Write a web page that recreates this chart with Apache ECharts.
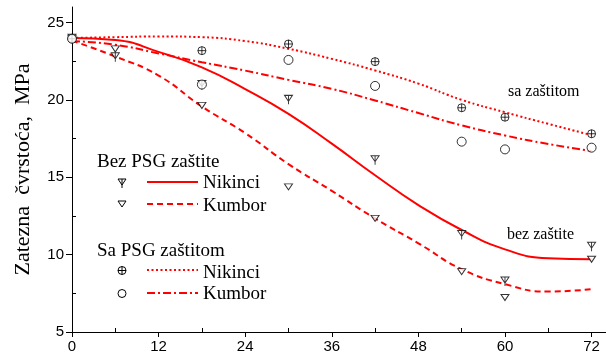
<!DOCTYPE html>
<html>
<head>
<meta charset="utf-8">
<script src="https://cdn.jsdelivr.net/npm/echarts@6/dist/echarts.min.js"></script>
<style>
  html, body { margin: 0; padding: 0; background: #fff; }
  #chart { width: 606px; height: 354px; }
</style>
</head>
<body>
<div id="chart"></div>
<script type="text/javascript">
    // fitted curves, read every 6 units
    var curveX = [0, 6, 12, 18, 24, 30, 36, 42, 48, 54, 60, 66, 72];
    var nikBezCurve = [24.0, 23.87, 23.1, 22.1, 20.7, 19.1, 17.17, 15.13, 13.2, 11.59, 10.34, 9.76, 9.70];
    var kumBezCurve = [23.82, 22.8, 21.57, 19.57, 17.85, 15.85, 14.12, 12.34, 10.73, 9.06, 8.09, 7.61, 7.77];
    var nikSaCurve = [24.0, 24.05, 24.1, 24.05, 23.8, 23.3, 22.65, 21.9, 21.05, 20.0, 19.2, 18.45, 17.72];
    var kumSaCurve = [23.8, 23.56, 23.0, 22.43, 21.89, 21.29, 20.71, 19.96, 19.15, 18.35, 17.7, 17.15, 16.69];

    // measured points
    var bezX = [0, 6, 18, 30, 42, 54, 60, 72];
    var nikBezPts = [23.95, 22.75, 20.95, 20.0, 16.1, 11.27, 8.26, 10.51];
    var kumBezPts = [23.95, 23.29, 19.64, 14.38, 12.34, 8.9, 7.23, 9.7];
    var saX = [0, 18, 30, 42, 54, 60, 72];
    var nikSaPts = [23.95, 23.18, 23.61, 22.47, 19.49, 18.88, 17.81];
    var kumSaPts = [23.95, 20.99, 22.58, 20.9, 17.3, 16.8, 16.91];

    var xTicks = [0, 12, 24, 36, 48, 60, 72];
    var xMinor = [6, 18, 30, 42, 54, 66];
    var yTicks = [5, 10, 15, 20, 25];
    var yMinor = [7.5, 12.5, 17.5, 22.5];

    function pairs(xs, ys) {
        return xs.map(function (x, i) { return [x, ys[i]]; });
    }

    var RED = '#ff0000';
    var triLine = 'path://M0,0 L8,0 L4,6 Z M4,0 L4,9';
    var tri = 'path://M0,0 L8,0 L4,6 Z';
    var oplus = 'path://M0,4 A4,4 0 1 1 8,4 A4,4 0 1 1 0,4 Z M0,4 L8,4 M4,0 L4,8';
    var mk = {color: '#fff', borderColor: '#000', borderWidth: 1};

    var styles = {
        solid: 'solid',
        dashed: [6, 4],
        dotted: [2, 2.5],
        dashdot: [8, 3, 2, 3]
    };

    function curve(name, ys, type) {
        return {
            name: name, type: 'line', data: pairs(curveX, ys), smooth: true,
            showSymbol: false, symbol: 'none', silent: true,
            lineStyle: {color: RED, width: 2, type: type}
        };
    }
    function pts(name, xs, ys, symbol, size) {
        return {
            name: name, type: 'scatter', data: pairs(xs, ys),
            symbol: symbol, symbolSize: size, itemStyle: mk, z: 5
        };
    }

    var serif = 'Liberation Serif';
    function txt(x, y, s, size) {
        return {type: 'text', x: x, y: y, z: 10,
            style: {text: s, font: size + 'px "' + serif + '"', fill: '#000', align: 'left', verticalAlign: 'middle'}};
    }
    function legLine(y, type) {
        return {type: 'line', z: 10, shape: {x1: 147, y1: y, x2: 198, y2: y},
            style: {stroke: RED, lineWidth: 2, lineDash: type === 'solid' ? null : type}};
    }

    var myChart = echarts.init(document.getElementById('chart'));
    myChart.setOption({
        animation: false,
        grid: {left: 72, right: 0, top: 7, bottom: 22, containLabel: false},
        xAxis: [{
            type: 'value', min: 0, max: 74,
            axisLine: {lineStyle: {color: '#000', width: 1}},
            axisTick: {length: 5, customValues: xTicks, lineStyle: {color: '#000'}},
            axisLabel: {customValues: xTicks, color: '#000', fontFamily: 'Liberation Sans', fontSize: 15, margin: 7},
            splitLine: {show: false}
        }, {
            type: 'value', min: 0, max: 74, position: 'bottom',
            axisLine: {show: false},
            axisTick: {inside: true, length: 4, customValues: xMinor, lineStyle: {color: '#000'}},
            axisLabel: {show: false},
            splitLine: {show: false}
        }],
        yAxis: [{
            type: 'value', min: 5, max: 26,
            name: 'Zatezna  čvrstoća,  MPa', nameLocation: 'middle', nameRotate: 90, nameGap: 38,
            nameTextStyle: {fontFamily: serif, fontSize: 22, color: '#000'},
            axisLine: {show: true, lineStyle: {color: '#000', width: 1}},
            axisTick: {show: true, length: 6, customValues: yTicks, lineStyle: {color: '#000'}},
            axisLabel: {customValues: yTicks, color: '#000', fontFamily: 'Liberation Sans', fontSize: 15, margin: 8},
            splitLine: {show: false}
        }, {
            type: 'value', min: 5, max: 26, position: 'left',
            axisLine: {show: false},
            axisTick: {show: true, inside: true, length: 4, customValues: yMinor, lineStyle: {color: '#000'}},
            axisLabel: {show: false},
            splitLine: {show: false}
        }],
        series: [
            curve('Nikinci bez', nikBezCurve, styles.solid),
            curve('Kumbor bez', kumBezCurve, styles.dashed),
            curve('Nikinci sa', nikSaCurve, styles.dotted),
            curve('Kumbor sa', kumSaCurve, styles.dashdot),
            pts('Nikinci bez pts', bezX, nikBezPts, triLine, [8, 9]),
            pts('Kumbor bez pts', bezX, kumBezPts, tri, [8, 6]),
            pts('Nikinci sa pts', saX, nikSaPts, oplus, 8),
            pts('Kumbor sa pts', saX, kumSaPts, 'circle', 9)
        ],
        graphic: [
            txt(97, 162, 'Bez PSG zaštite', 19),
            {type: 'polygon', z: 10, shape: {points: [[118, 179], [126, 179], [122, 185]]}, style: {fill: '#fff', stroke: '#000', lineWidth: 1}},
            {type: 'line', z: 10, shape: {x1: 122, y1: 179, x2: 122, y2: 188}, style: {stroke: '#000', lineWidth: 1}},
            legLine(182, styles.solid),
            txt(203, 183, 'Nikinci', 19),
            {type: 'polygon', z: 10, shape: {points: [[118, 201], [126, 201], [122, 207]]}, style: {fill: '#fff', stroke: '#000', lineWidth: 1}},
            legLine(204, styles.dashed),
            txt(203, 206, 'Kumbor', 19),

            txt(97, 251, 'Sa PSG zaštitom', 19),
            {type: 'circle', z: 10, shape: {cx: 122, cy: 270.5, r: 4}, style: {fill: '#fff', stroke: '#000', lineWidth: 1}},
            {type: 'line', z: 10, shape: {x1: 118, y1: 270.5, x2: 126, y2: 270.5}, style: {stroke: '#000', lineWidth: 1}},
            {type: 'line', z: 10, shape: {x1: 122, y1: 266.5, x2: 122, y2: 274.5}, style: {stroke: '#000', lineWidth: 1}},
            legLine(270, styles.dotted),
            txt(203, 273, 'Nikinci', 19),
            {type: 'circle', z: 10, shape: {cx: 122, cy: 293.5, r: 4}, style: {fill: '#fff', stroke: '#000', lineWidth: 1}},
            legLine(293, styles.dashdot),
            txt(203, 294, 'Kumbor', 19),

            txt(508, 92, 'sa zaštitom', 16),
            txt(507, 235, 'bez zaštite', 16)
        ]
    });
</script>
</body>
</html>
